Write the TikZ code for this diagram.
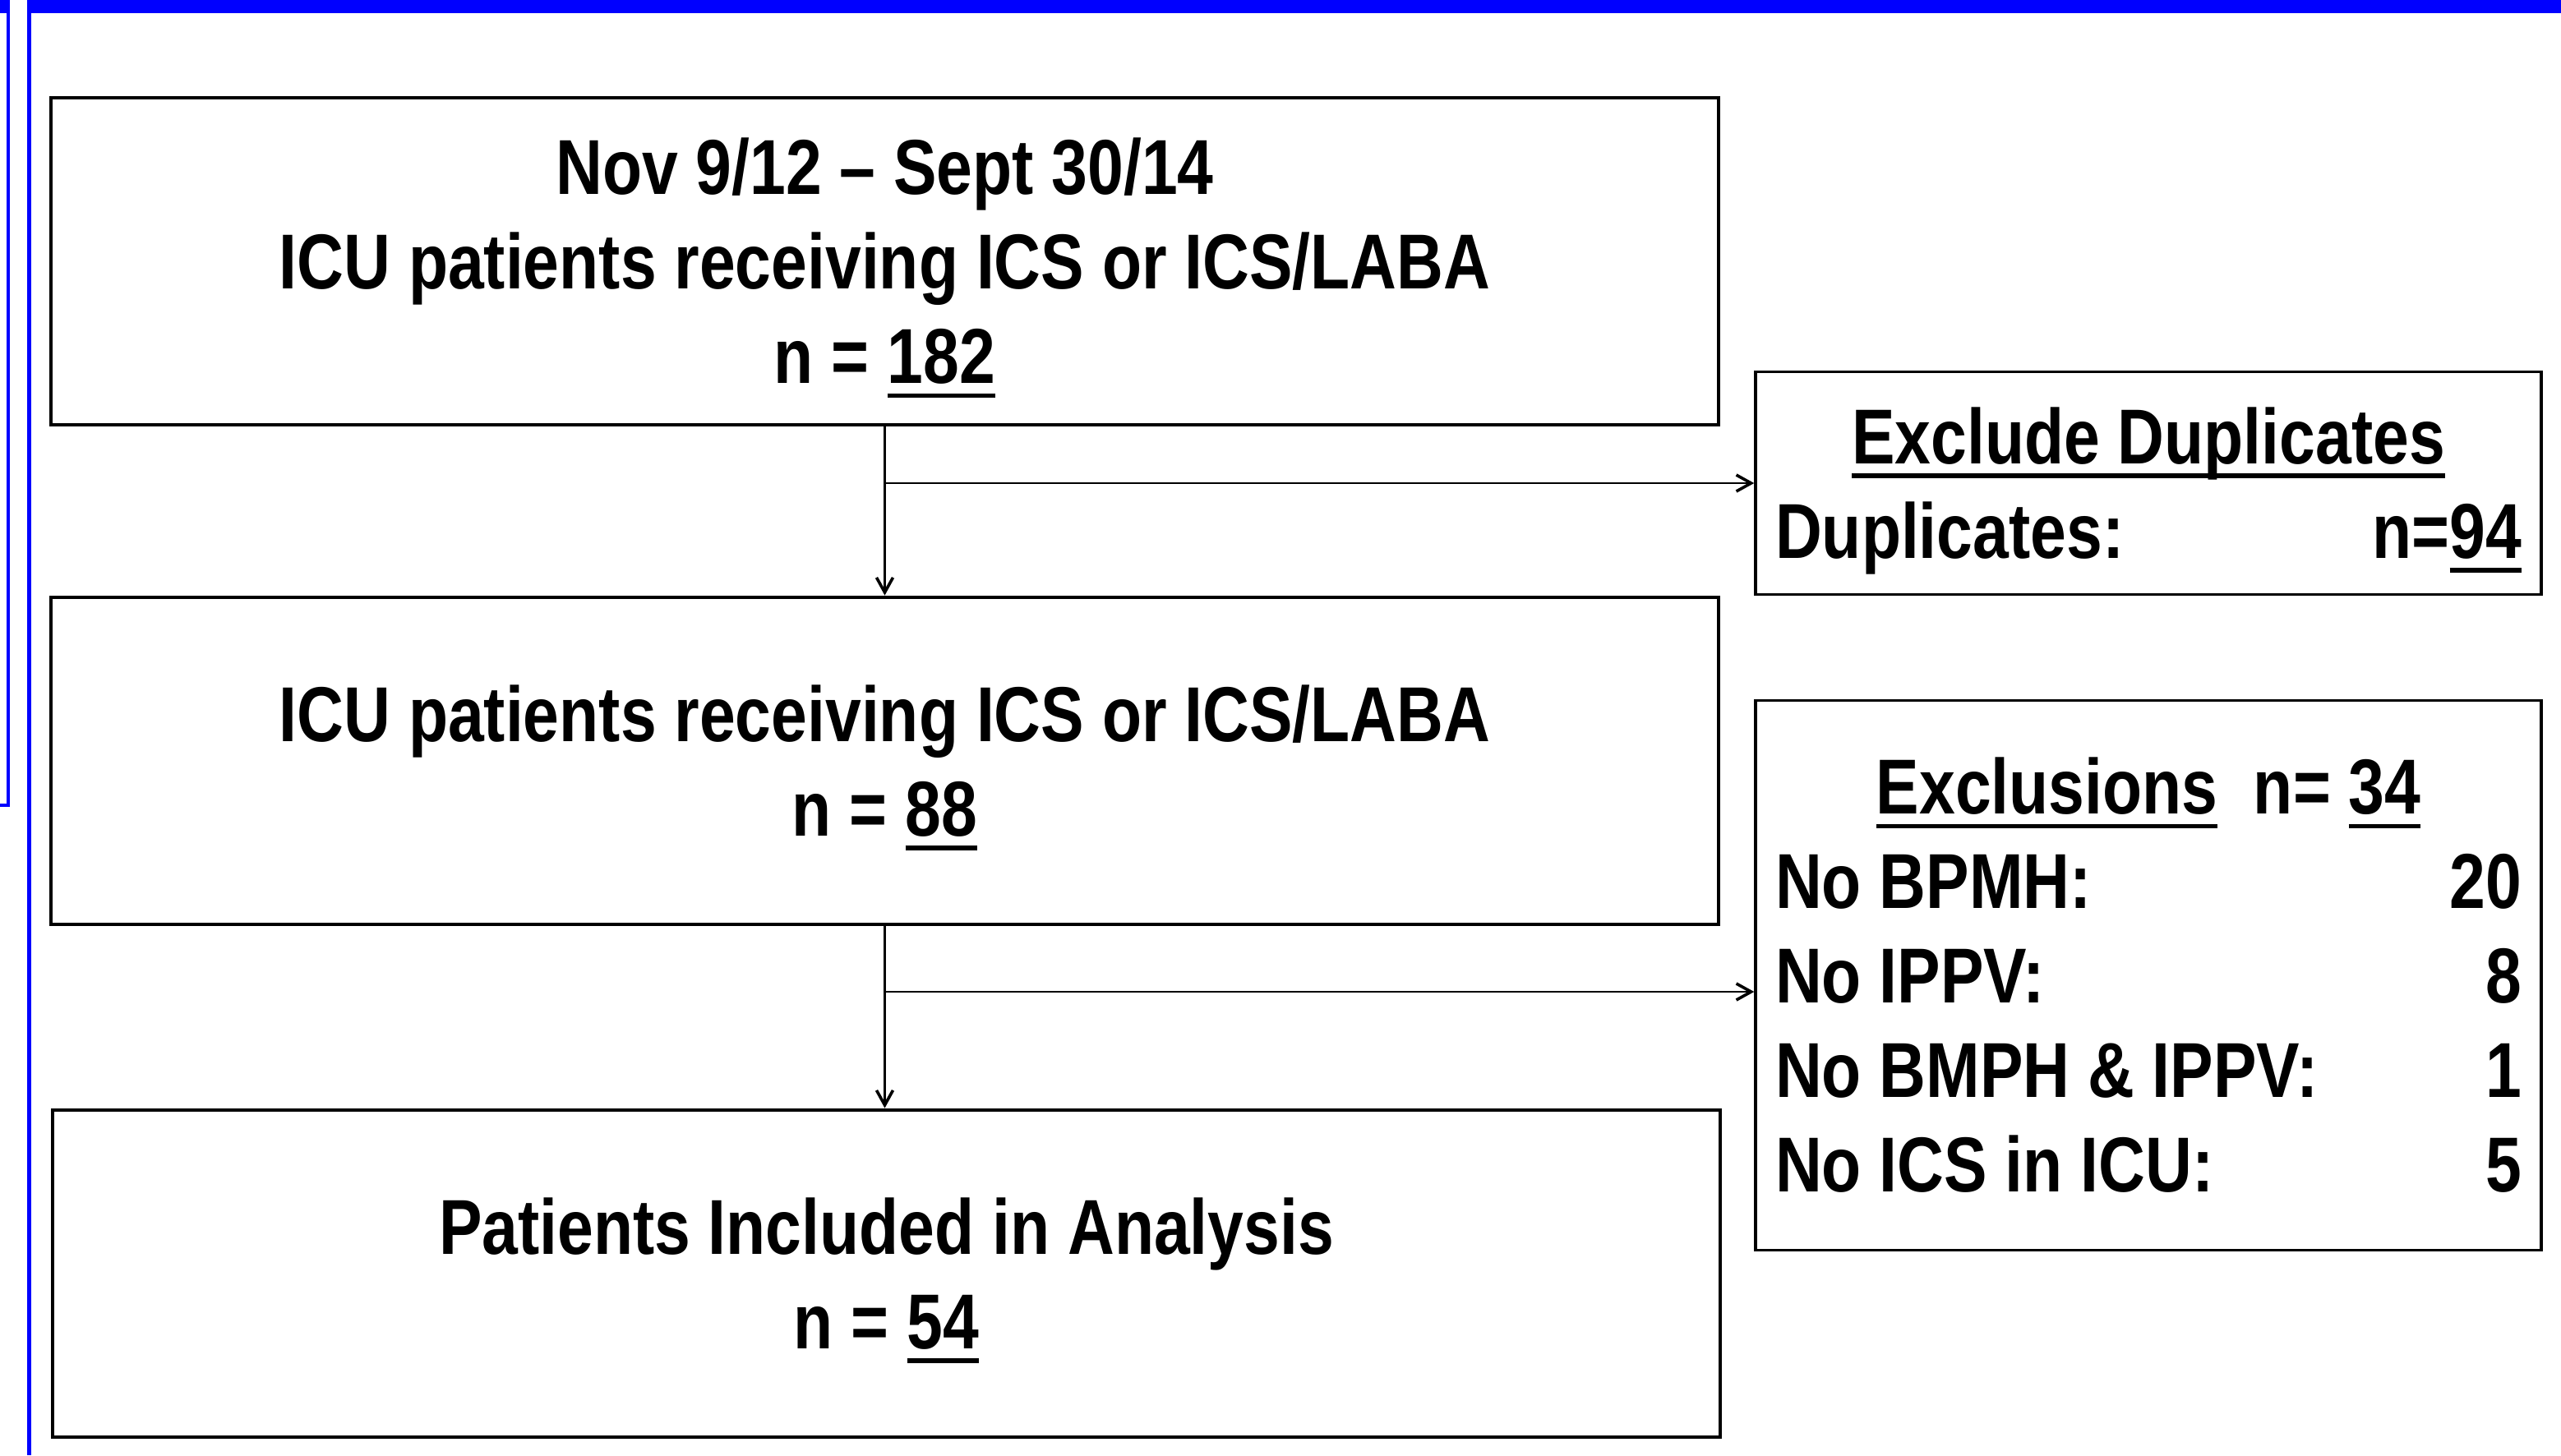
\documentclass[tikz,border=0pt]{standalone}
\usepackage{fontspec}
\setmainfont{Liberation Sans}[FakeStretch=0.83]
\usetikzlibrary{positioning,arrows.meta}
\newcommand{\undl}[1]{\setbox0\hbox{#1}\rlap{\smash{\rule[-4.3pt]{\wd0}{1.4pt}}}\box0}
\tikzset{
  every node/.style={
    font=\fontsize{23.7}{28.75}\selectfont\bfseries,
    fill=white
  },
  stepbox/.style={draw, line width=1.2pt, minimum width=507.25pt, minimum height=99.5pt, align=center, inner sep=0pt},
  sidebox/.style={draw, line width=0.9pt, text width=227pt, inner xsep=6pt, inner ysep=0pt, align=flush center},
  feed/.style={line width=0.7pt, -{Straight Barb[length=4.5pt,width=5pt,line width=0.9pt]}}
}

\begin{document}
\begin{tikzpicture}
        \useasboundingbox (-269.125pt,79.5pt) rectangle (509.875pt,-363.25pt);
        \fill[blue] (-269.125pt,79.5pt) rectangle (-266pt,75.5pt);
        \fill[blue] (-260.875pt,79.5pt) rectangle (509.875pt,75.5pt);
        \draw[blue, line width=1.2pt] (-266.6pt,79.5pt) -- (-266.6pt,-165.5pt) -- (-269.125pt,-165.5pt);
        \draw[blue, line width=1.2pt] (-260.25pt,79.5pt) -- (-260.25pt,-363.25pt);

        \node [stepbox] (Dates) at (0,0) {Nov 9/12 -- Sept 30/14\\ICU patients receiving ICS or ICS/LABA\\n = \undl{182}};
        \node [stepbox, on grid, below=152pt of Dates] (Unique) {ICU patients receiving ICS or ICS/LABA\\n = \undl{88}};
        \node [stepbox, on grid, below=156pt of Unique, xshift=0.5pt] (Included) {Patients Included in Analysis\\n = \undl{54}};
        \node [sidebox, on grid, below right=67.5pt and 384.4pt of Dates, minimum height=67.75pt] (Dupl) {\undl{Exclude Duplicates}\\\smash{Duplicates:}\hfill n=\undl{94}};
        \node [sidebox, on grid, below right=65.25pt and 384.4pt of Unique, minimum height=167.25pt] (Excl) {\undl{Exclusions}\ \ n= \undl{34}\\No BPMH:\hfill 20\\No IPPV:\hfill 8\\No BMPH \& IPPV:\hfill 1\\No ICS in ICU:\hfill 5};
        \coordinate (ExclIn) at ([yshift=-5pt]Excl.west);

        \draw[feed] (Dates) -- (Unique);
        \draw[feed] (Dates.south |- Dupl.west) -- (Dupl.west);
        \draw[feed] (Unique) -- (Unique.south |- Included.north);
        \draw[feed] (Unique.south |- ExclIn) -- (ExclIn);
      \end{tikzpicture}
\end{document}
